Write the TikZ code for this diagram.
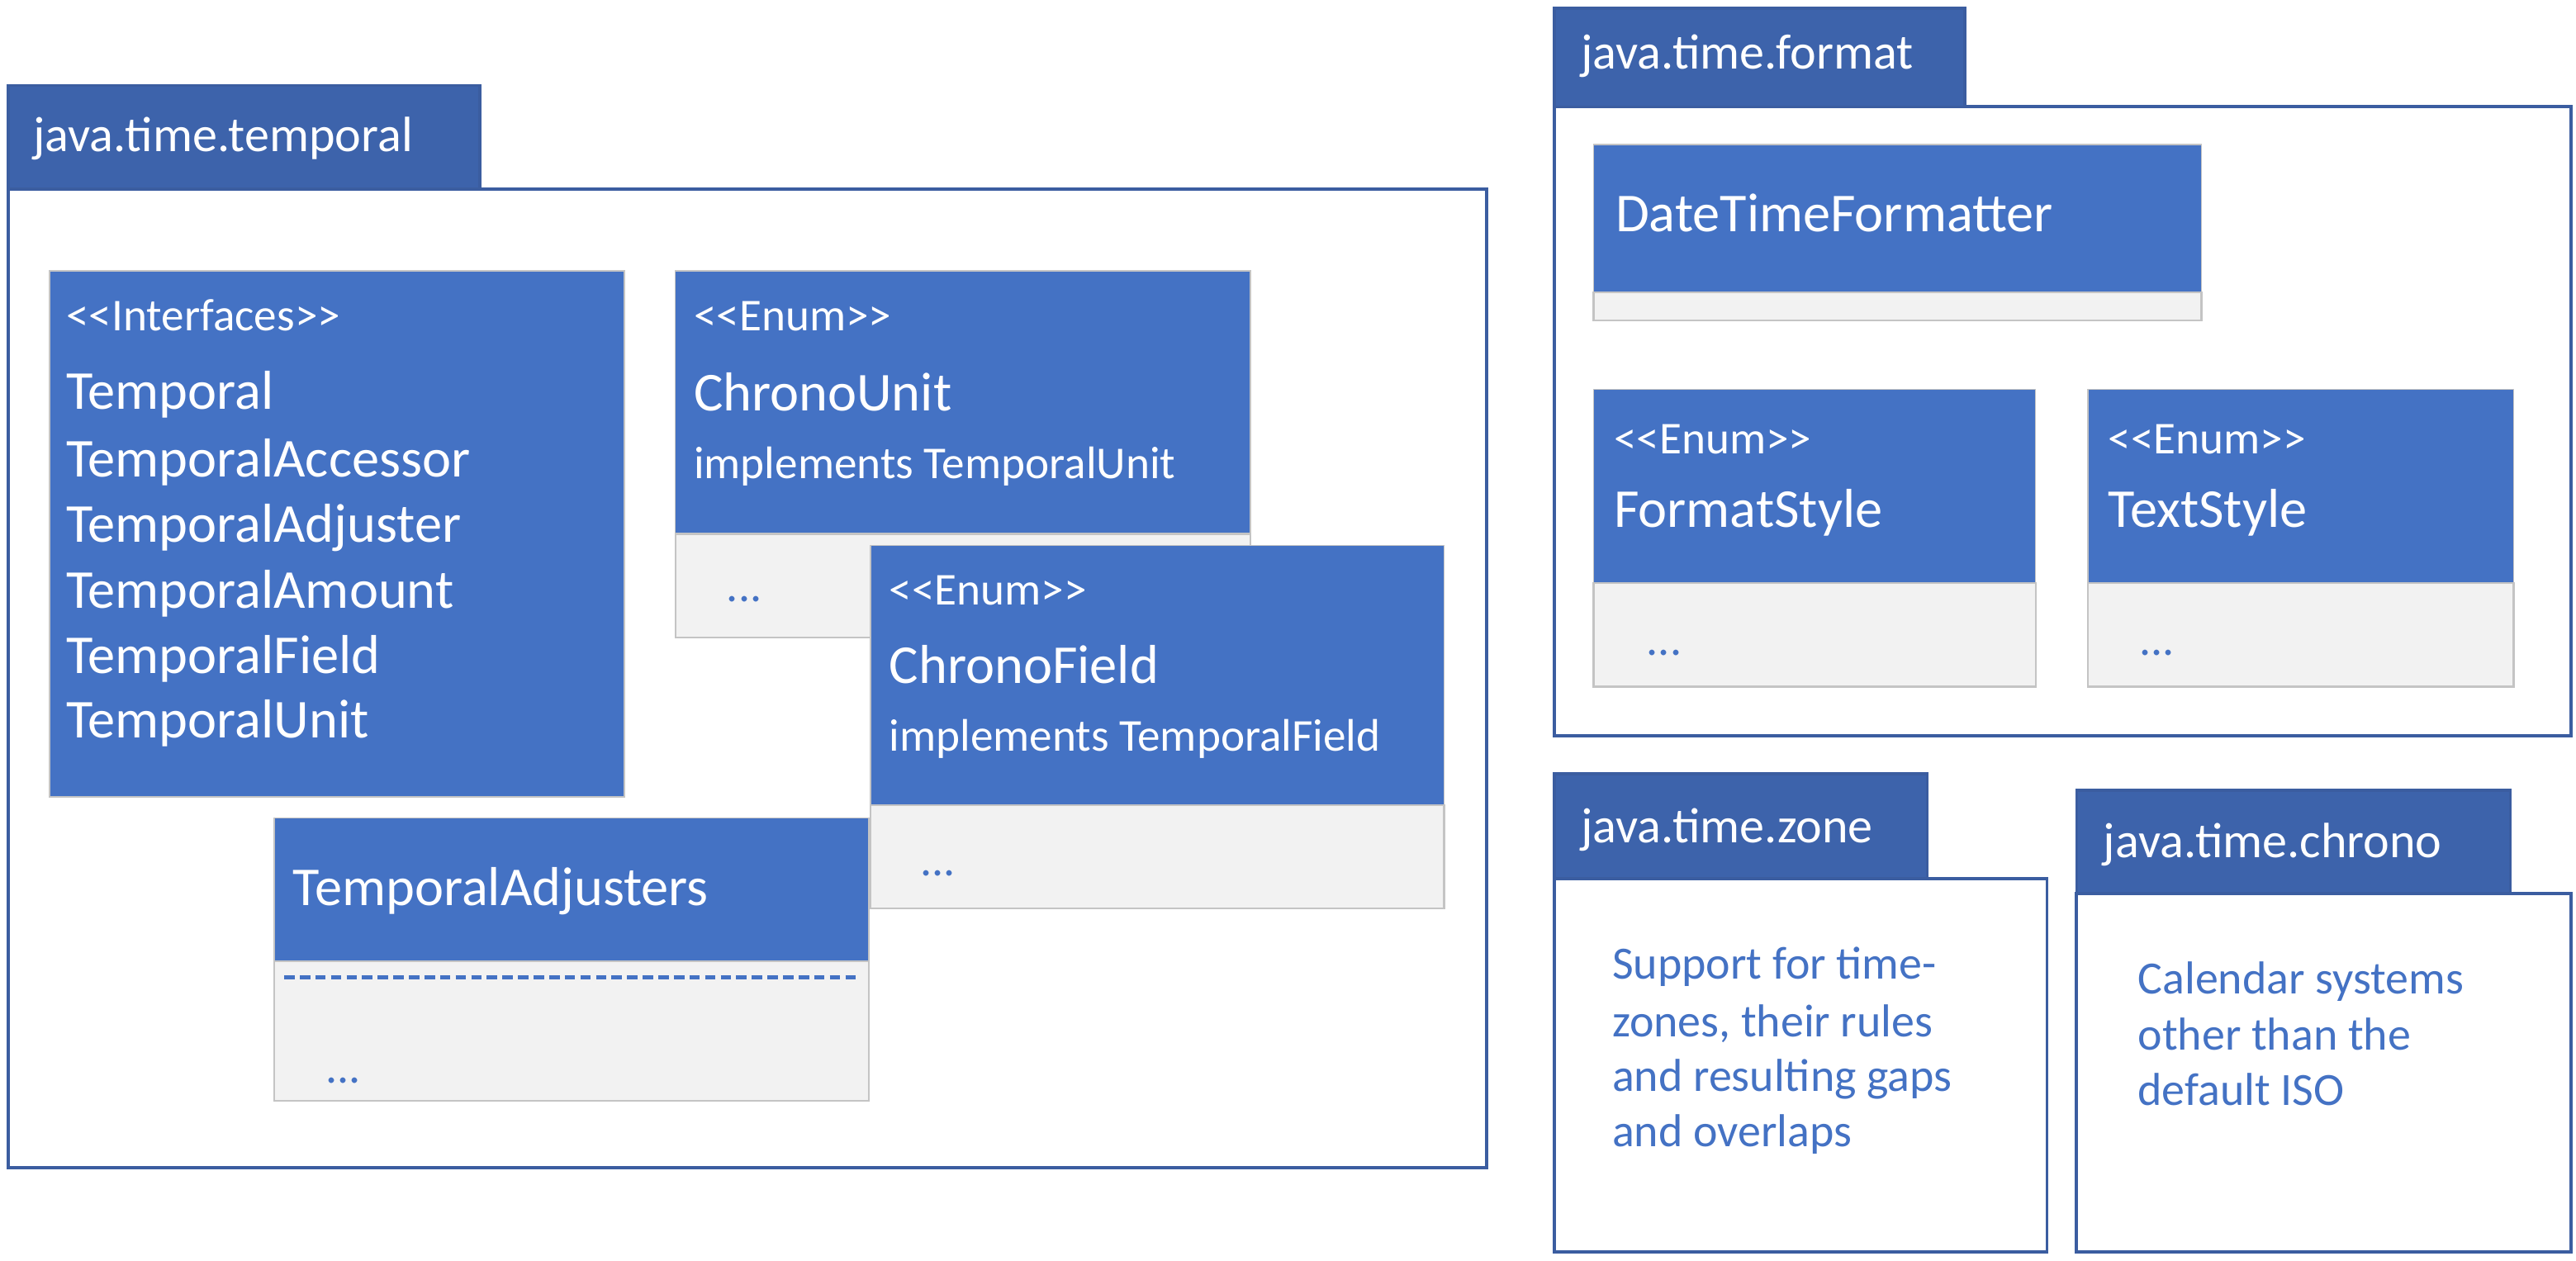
\documentclass[tikz,border=0pt]{standalone}
\usepackage{fontspec}
\setmainfont{Carlito}
\definecolor{boxblue}{HTML}{4472C4}
\definecolor{tabblue}{HTML}{3D63AB}
\definecolor{pkgline}{HTML}{3B5DA0}
\definecolor{lightgray}{HTML}{F2F2F2}
\definecolor{edgegray}{HTML}{C4C4C4}
\newcommand\myopen{<\kern0pt<}
\newcommand\myclose{>\kern0pt>}
\tikzset{
 pkgtab/.style={fill=tabblue, draw=pkgline, line width=1pt},
 pkgbody/.style={fill=white, draw=pkgline, line width=1.1pt},
 hdr/.style={fill=boxblue, draw=edgegray, line width=0.5pt},
 cmp/.style={fill=lightgray, draw=edgegray, line width=0.6pt},
 txt/.style={anchor=west, inner sep=0pt, text height=1.24em, text depth=0.2em},
 big/.style={txt, text=white, font=\fontsize{19}{22.8}\selectfont},
 small/.style={txt, text=white, font=\fontsize{15.8}{19}\selectfont},
 tabtxt/.style={txt, text=white, font=\fontsize{17.2}{20.6}\selectfont},
 desc/.style={txt, text=boxblue, font=\fontsize{16}{19.3}\selectfont},
 dots/.style={txt, text=boxblue, font=\fontsize{16}{19}\selectfont},
}
\begin{document}
\begin{tikzpicture}[x=0.02cm,y=-0.02cm]
\useasboundingbox (0,0) rectangle (1568,767.6);

% ---------------- java.time.temporal ----------------
\draw[pkgbody] (5,115) rectangle (905,711);
\draw[pkgtab] (5,52) rectangle (292,115);
\node[tabtxt] (ttemporal) at (20,83) {java.time.temporal};

\draw[hdr] (30,165) rectangle (380,485);
\node[small] (ifst) at (40,192) {\myopen Interfaces\myclose};
\node[big] (i1) at (40,240) {Temporal};
\node[big] (i2) at (40,281) {TemporalAccessor};
\node[big] (i3) at (40,321) {TemporalAdjuster};
\node[big] (i4) at (40,361) {TemporalAmount};
\node[big] (i5) at (40,401) {TemporalField};
\node[big] (i6) at (40,440) {TemporalUnit};

\draw[hdr] (411,165) rectangle (761,325);
\draw[cmp] (411,325) rectangle (761,388);
\node[small] (cust) at (422,192) {\myopen Enum\myclose};
\node[big] (cuname) at (422,241) {ChronoUnit};
\node[small] (cuimpl) at (422,282) {implements TemporalUnit};
\node[dots] (cudots) at (442,357) {...};

\draw[hdr] (530,332) rectangle (879,490);
\draw[cmp] (530,490) rectangle (879,553);
\node[small] (cfst) at (541,359) {\myopen Enum\myclose};
\node[big] (cfname) at (541,407) {ChronoField};
\node[small] (cfimpl) at (541,448) {implements TemporalField};
\node[dots] (cfdots) at (560,524) {...};

\draw[hdr] (167,498) rectangle (529,585);
\draw[cmp] (167,585) rectangle (529,670);
\node[big] (taname) at (178,542) {TemporalAdjusters};
\draw[boxblue, line width=1.2pt, dash pattern=on 3.6pt off 1.8pt] (173,595) -- (522,595);
\node[dots] (tadots) at (198,650) {...};

% ---------------- java.time.format ----------------
\draw[pkgbody] (946,65) rectangle (1565,448);
\draw[pkgtab] (946,5) rectangle (1196,65);
\node[tabtxt] (tformat) at (962,33) {java.time.format};

\draw[hdr] (970,88) rectangle (1340,178);
\draw[cmp] (970,178) rectangle (1340,195);
\node[big] (dtf) at (983,132) {DateTimeFormatter};

\draw[hdr] (970,237) rectangle (1239,355);
\draw[cmp] (970,355) rectangle (1239,418);
\node[small] (fsst) at (982,267) {\myopen Enum\myclose};
\node[big] (fsname) at (982,312) {FormatStyle};
\node[dots] (fsdots) at (1002,390) {...};

\draw[hdr] (1271,237) rectangle (1530,355);
\draw[cmp] (1271,355) rectangle (1530,418);
\node[small] (tsst) at (1283,267) {\myopen Enum\myclose};
\node[big] (tsname) at (1283,312) {TextStyle};
\node[dots] (tsdots) at (1302,390) {...};

% ---------------- java.time.zone ----------------
\draw[pkgbody] (946,535) rectangle (1246,762);
\draw[pkgtab] (946,471) rectangle (1173,535);
\node[tabtxt] (tzone) at (962,504) {java.time.zone};
\node[desc] (z1) at (981,587) {Support for time-};
\node[desc] (z2) at (981,622) {zones, their rules};
\node[desc] (z3) at (981,655) {and resulting gaps};
\node[desc] (z4) at (981,689) {and overlaps};

% ---------------- java.time.chrono ----------------
\draw[pkgbody] (1264,544) rectangle (1565,762);
\draw[pkgtab] (1264,481) rectangle (1528,544);
\node[tabtxt] (tchrono) at (1280,513) {java.time.chrono};
\node[desc] (c1) at (1301,596) {Calendar systems};
\node[desc] (c2) at (1301,630) {other than the};
\node[desc] (c3) at (1301,664) {default ISO};
\end{tikzpicture}
\end{document}
